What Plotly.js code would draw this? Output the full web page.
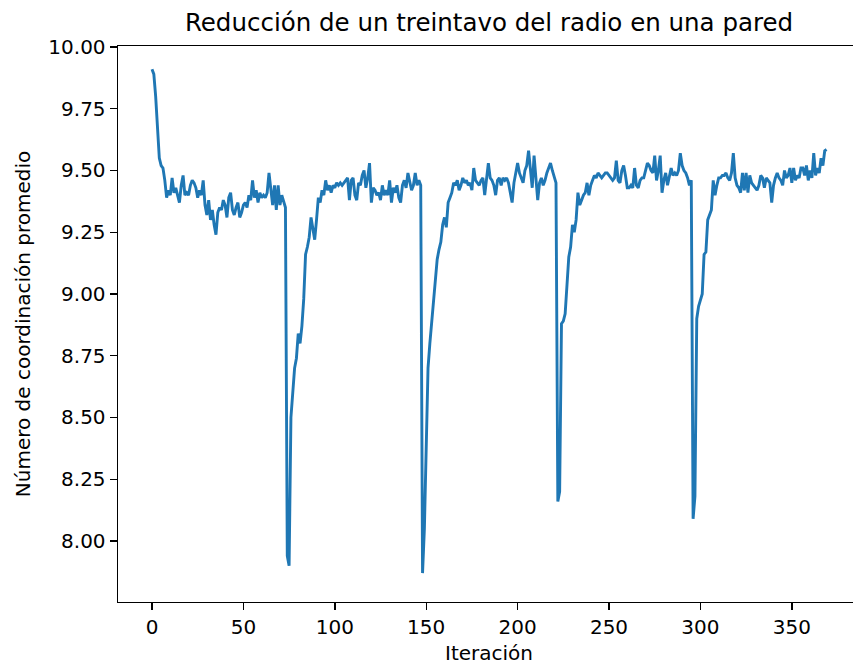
<!DOCTYPE html>
<html>
<head>
<meta charset="utf-8">
<script src="https://cdn.plot.ly/plotly-3.0.1.min.js"></script>
<style>
html, body { margin: 0; padding: 0; overflow: hidden; background: #fff; }
#chart { width: 862px; height: 665px; }
</style>
</head>
<body>
<div id="chart"></div>
<script>
// Número de coordinación promedio, por iteración (0..369), en cinco ciclos
const ciclo1 = [9.91,9.89,9.80,9.66,9.55,9.52,9.51,9.46,9.39,9.42,9.40,9.47,9.41,9.43,9.40,9.37,9.44,9.48,9.40,9.41,
  9.40,9.44,9.46,9.45,9.43,9.39,9.42,9.40,9.46,9.36,9.32,9.38,9.30,9.34,9.28,9.24,9.33,9.35,9.34,9.38,
  9.36,9.31,9.39,9.41,9.34,9.32,9.35,9.37,9.31,9.33,9.36,9.37,9.35,9.40,9.38,9.46,9.39,9.42,9.37,9.41,
  9.39,9.40,9.39,9.41,9.49,9.42,9.36,9.44,9.34,9.44,9.36,9.40,9.37,9.35];
const ciclo2 = [7.94,7.90,8.50,8.62,8.70,8.74,8.84,8.80,8.87,8.98,9.16,9.19,9.23,9.31,9.27,9.22,9.30,9.39,9.37,9.42,
  9.40,9.46,9.42,9.44,9.41,9.44,9.43,9.45,9.44,9.45,9.44,9.45,9.46,9.47,9.38,9.46,9.47,9.40,9.38,9.45,
  9.44,9.48,9.50,9.43,9.47,9.53,9.37,9.43,9.42,9.40,9.41,9.38,9.44,9.40,9.42,9.40,9.46,9.37,9.43,9.41,
  9.44,9.39,9.37,9.44,9.46,9.43,9.49,9.45,9.42,9.44,9.49,9.44,9.46,9.44];
const ciclo3 = [7.87,8.05,8.45,8.70,8.80,8.88,8.96,9.05,9.14,9.18,9.21,9.28,9.31,9.27,9.37,9.39,9.41,9.45,9.44,9.46,
  9.42,9.44,9.47,9.45,9.46,9.44,9.45,9.42,9.51,9.46,9.45,9.44,9.46,9.47,9.40,9.48,9.53,9.47,9.46,9.44,
  9.40,9.46,9.47,9.44,9.47,9.46,9.47,9.45,9.41,9.37,9.45,9.50,9.53,9.49,9.47,9.45,9.50,9.52,9.58,9.50,
  9.43,9.56,9.48,9.38,9.45,9.47,9.44,9.46,9.49,9.51,9.53,9.50,9.47,9.45];
const ciclo4 = [8.16,8.20,8.88,8.89,8.92,9.02,9.15,9.19,9.28,9.25,9.30,9.41,9.36,9.38,9.40,9.41,9.45,9.40,9.44,9.46,
  9.48,9.47,9.49,9.48,9.47,9.48,9.49,9.49,9.48,9.47,9.46,9.47,9.54,9.46,9.45,9.50,9.52,9.48,9.43,9.43,
  9.44,9.43,9.51,9.44,9.43,9.46,9.47,9.47,9.50,9.53,9.52,9.50,9.49,9.56,9.46,9.50,9.56,9.41,9.46,9.49,
  9.44,9.47,9.51,9.48,9.49,9.48,9.50,9.57,9.52,9.50,9.49,9.47,9.44,9.46];
const ciclo5 = [8.09,8.18,8.90,8.95,8.98,9.00,9.16,9.17,9.30,9.32,9.34,9.46,9.40,9.44,9.47,9.47,9.48,9.48,9.49,9.47,
  9.46,9.49,9.57,9.47,9.44,9.43,9.41,9.49,9.42,9.49,9.41,9.48,9.45,9.44,9.43,9.42,9.44,9.48,9.47,9.43,
  9.47,9.46,9.45,9.37,9.44,9.47,9.49,9.47,9.46,9.44,9.50,9.47,9.48,9.51,9.45,9.51,9.46,9.48,9.47,9.51,
  9.51,9.48,9.52,9.46,9.50,9.47,9.57,9.48,9.51,9.49,9.55,9.52,9.58,9.585];

const valores = [].concat(ciclo1, ciclo2, ciclo3, ciclo4, ciclo5);
const iteraciones = valores.map((_, i) => i);

const xTicks = [0, 50, 100, 150, 200, 250, 300, 350];
const yTicks = [8.00, 8.25, 8.50, 8.75, 9.00, 9.25, 9.50, 9.75, 10.00];

const font = "DejaVu Sans, sans-serif";

const trace = {
  x: iteraciones,
  y: valores,
  type: "scatter",
  mode: "lines",
  line: { color: "#1f77b4", width: 2.9 },
  hoverinfo: "x+y"
};

const axisCommon = {
  showgrid: false,
  zeroline: false,
  showline: true,
  linecolor: "#000",
  linewidth: 1.4,
  mirror: true,
  ticks: "outside",
  ticklen: 7,
  tickwidth: 1.4,
  tickcolor: "#000",
  tickfont: { family: font, size: 20, color: "#000" }
};

const layout = {
  width: 862,
  height: 665,
  margin: { l: 118, r: 2, t: 46, b: 63 },
  paper_bgcolor: "#fff",
  plot_bgcolor: "#fff",
  showlegend: false,
  title: {
    text: "Reducción de un treintavo del radio en una pared",
    font: { family: font, size: 24.5, color: "#000" },
    xref: "container", x: 489 / 862, xanchor: "center",
    yref: "container", y: 1 - 22 / 665, yanchor: "middle"
  },
  xaxis: Object.assign({}, axisCommon, {
    range: [-18.6, 387.3],
    tickvals: xTicks,
    ticktext: xTicks.map(String),
    title: { text: "Iteración", font: { family: font, size: 20, color: "#000" }, standoff: 7 }
  }),
  yaxis: Object.assign({}, axisCommon, {
    range: [7.753, 10.004],
    tickvals: yTicks,
    ticktext: yTicks.map(v => v.toFixed(2)),
    title: { text: "Número de coordinación promedio", font: { family: font, size: 20, color: "#000" }, standoff: 12 }
  })
};

Plotly.newPlot("chart", [trace], layout, { displayModeBar: false, staticPlot: true });
</script>
</body>
</html>
